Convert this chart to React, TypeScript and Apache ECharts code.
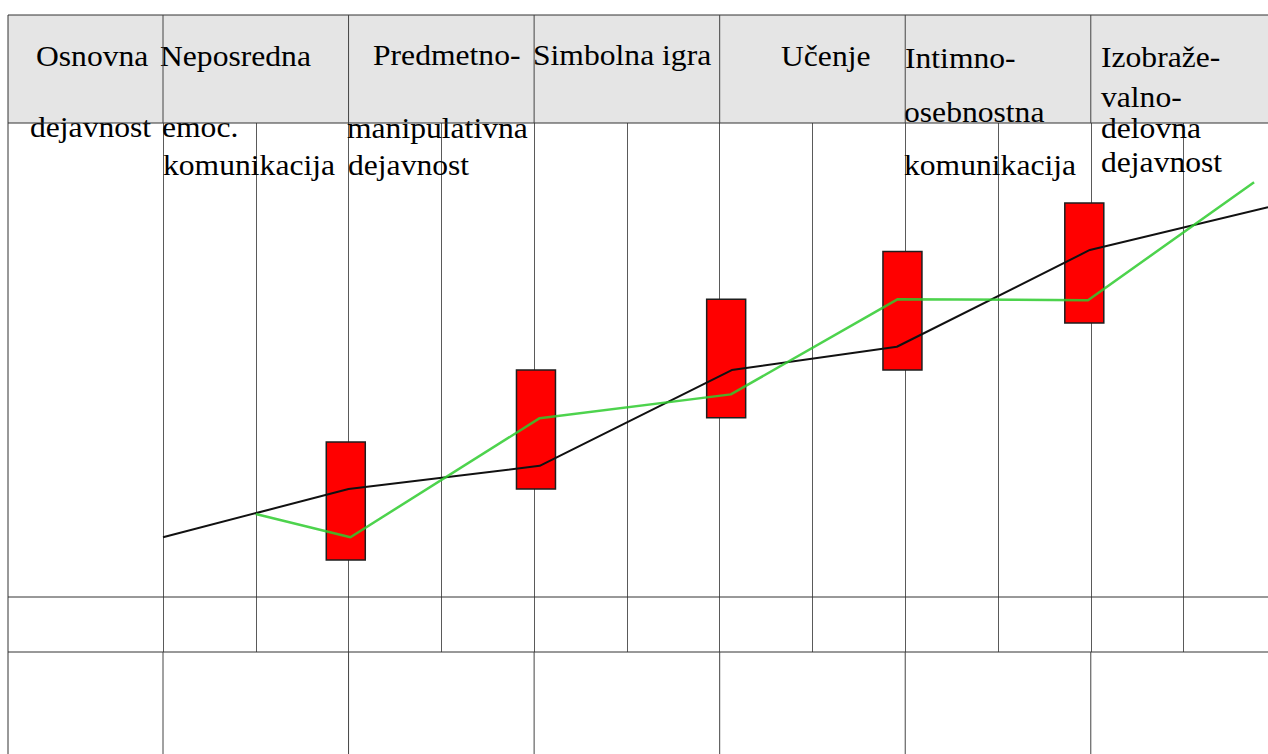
import React, { useEffect, useRef } from 'react';
import * as echarts from 'echarts';

// ---- data (x in half-column units, y in arbitrary 0..100 level units) ----
const BAR_X = [1.97, 4.02, 6.07, 7.97, 9.93];
const BAR_LOW = [17.4, 30.8, 44.3, 53.3, 62.2];
const BAR_HIGH = [39.7, 53.3, 66.7, 75.7, 84.9];

const BLACK_X = [0, 2.0, 4.06, 6.13, 7.91, 9.99, 11.91];
const BLACK_Y = [21.7, 30.8, 35.2, 53.3, 57.7, 76.0, 84.1];

const GREEN_X = [1.0, 2.02, 4.06, 6.12, 7.92, 9.97, 11.76];
const GREEN_Y = [26.1, 21.7, 44.2, 48.7, 66.7, 66.5, 88.8];

// header texts (stage names)
const LABELS = [
  'Osnovna', 'Neposredna', 'Predmetno-', 'Simbolna igra', 'Učenje', 'Intimno-', 'Izobraže-',
  'valno-', 'osebnostna',
  'dejavnost', 'emoc.', 'manipulativna', 'delovna',
  'komunikacija', 'dejavnost', 'komunikacija', 'dejavnost',
];

// layout only: [left, baseline] for each label above
const LABEL_POS: [number, number][] = [
  [36, 66], [160, 66], [373, 65], [533, 65], [781, 66], [905, 68], [1101, 67],
  [1101, 107], [904, 122],
  [30, 137], [162, 137], [347, 138], [1101, 138],
  [163, 175], [348, 175], [904, 175], [1101, 172],
];

const MAJOR_TICKS = [0, 2, 4, 6, 8, 10];

export default function App() {
  const ref = useRef<HTMLDivElement>(null);

  useEffect(() => {
    if (!ref.current) return;
    const chart = echarts.init(ref.current, null, { renderer: 'svg' });

    const TOP = 15;
    const HEAD_BOTTOM = 123;
    const ROW_LINE = 597;
    const BODY_BOTTOM = 652;
    const LEFT = 8;
    const W = 1268;
    const H = 754;

    chart.setOption({
      animation: false,
      backgroundColor: '#ffffff',
      grid: { left: 163, top: HEAD_BOTTOM, right: 0, bottom: H - BODY_BOTTOM, containLabel: false },
      xAxis: {
        type: 'value',
        min: 0,
        max: 11.91,
        interval: 1,
        axisLine: { show: false },
        axisTick: { show: false },
        axisLabel: { show: false },
        splitLine: { show: true, showMaxLine: false, lineStyle: { color: '#5a5a5a', width: 1 } },
      },
      yAxis: {
        type: 'value',
        min: 0,
        max: 100,
        axisLine: { show: false },
        axisTick: { show: false },
        axisLabel: { show: false },
        splitLine: { show: false },
      },
      series: [
        {
          type: 'custom',
          z: 3,
          encode: { x: 0, y: [1, 2] },
          data: BAR_X.map((x, i) => [x, BAR_LOW[i], BAR_HIGH[i]]),
          renderItem: (params: any, api: any) => {
            const x = api.value(0);
            const top = api.coord([x, api.value(2)]);
            const bottom = api.coord([x, api.value(1)]);
            const w = 39;
            return {
              type: 'rect',
              shape: { x: top[0] - w / 2, y: top[1], width: w, height: bottom[1] - top[1] },
              style: { fill: '#ff0000', stroke: '#1e1e1e', lineWidth: 1.5 },
            };
          },
        },
        {
          type: 'line',
          z: 5,
          symbol: 'none',
          data: BLACK_X.map((x, i) => [x, BLACK_Y[i]]),
          lineStyle: { color: '#111111', width: 2 },
        },
        {
          type: 'line',
          z: 6,
          symbol: 'none',
          data: GREEN_X.map((x, i) => [x, GREEN_Y[i]]),
          lineStyle: { color: '#2ecb2e', width: 2.5, opacity: 0.85 },
        },
      ],
    });

    const px = (v: number) => chart.convertToPixel({ xAxisIndex: 0 } as any, v) as number;
    const majors = MAJOR_TICKS.map(px);

    const lineEl = (x1: number, y1: number, x2: number, y2: number, color = '#333333') => ({
      type: 'line',
      silent: true,
      z: 2,
      shape: { x1, y1, x2, y2 },
      style: { stroke: color, lineWidth: 1 },
    });

    const elements: any[] = [
      {
        type: 'rect',
        silent: true,
        z: 0,
        shape: { x: LEFT, y: TOP, width: W - LEFT, height: HEAD_BOTTOM - TOP },
        style: { fill: '#e5e5e5' },
      },
      lineEl(LEFT, TOP, W, TOP),
      lineEl(LEFT, HEAD_BOTTOM, W, HEAD_BOTTOM),
      lineEl(LEFT, ROW_LINE, W, ROW_LINE),
      lineEl(LEFT, BODY_BOTTOM, W, BODY_BOTTOM),
      lineEl(LEFT, TOP, LEFT, H),
    ];
    majors.forEach((x) => {
      elements.push(lineEl(x, TOP, x, HEAD_BOTTOM, '#444444'));
      elements.push(lineEl(x, BODY_BOTTOM, x, H, '#444444'));
    });
    LABELS.forEach((t, i) => {
      const [x, base] = LABEL_POS[i];
      elements.push({
        type: 'text',
        silent: true,
        z: 1,
        x,
        y: base - 10,
        scaleX: 1.09,
        style: {
          text: t,
          fill: '#000000',
          font: '29px "Liberation Serif"',
          align: 'left',
          verticalAlign: 'middle',
        },
      });
    });

    chart.setOption({ graphic: { elements } });

    return () => chart.dispose();
  }, []);

  return (
    <div
      ref={ref}
      style={{ position: 'fixed', left: 0, top: 0, width: 1268, height: 754, background: '#fff' }}
    />
  );
}
